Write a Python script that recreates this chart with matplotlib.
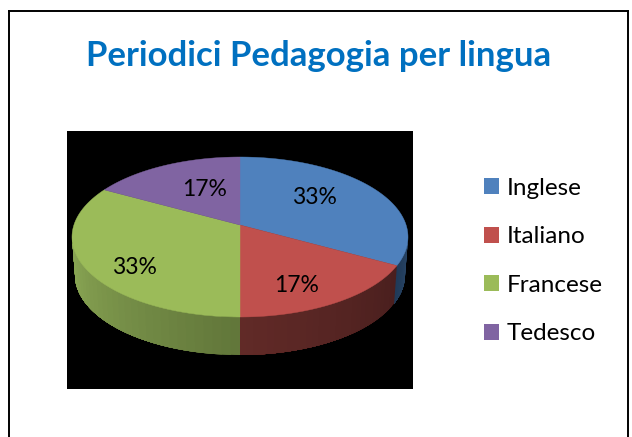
import numpy as np
from matplotlib import pyplot as plt
from matplotlib.colors import to_rgb
from matplotlib.lines import Line2D
from matplotlib.patches import Patch

# chart data
languages = ['Inglese', 'Italiano', 'Francese', 'Tedesco']
percent = [33, 17, 33, 17]
title = 'Periodici Pedagogia per lingua'

# colours
top_colors = ['#4F81BD', '#C0504D', '#9BBB59', '#8064A2']
wall_start = ['#2A4768', '#4A1F1E', '#62773A', '#5A4672']   # wall colour at the start of each slice
wall_end = ['#203A58', '#612A27', '#8CA956', '#5A4672']     # and at its end

W, H = 632, 437     # figure size in pixels
a = 0.15            # perspective shift of the pie centre
depth = 38 / 80     # wall height, in units of the top ellipse


def project(theta, r=1.0):
    # perspective view of a point of the flat pie
    x = r * np.cos(theta)
    y = r * np.sin(theta)
    d = 1 + a * y
    return x * np.sqrt(1 - a**2) / d, (y + a) / d


def project_bottom(theta):
    # lower rim of the wall, slightly narrower than the top
    x, y = project(theta)
    return x * 165 / 168, y - depth


def mix(c0, c1, f):
    return tuple((1 - f) * np.array(to_rgb(c0)) + f * np.array(to_rgb(c1)))


plt.rcParams['font.family'] = ['Lato', 'DejaVu Sans']

fig = plt.figure(figsize=(W / 100, H / 100), dpi=100, facecolor='w')

# black plot area, one data unit = one radius of the top ellipse
ax = fig.add_axes([67 / W, 1 - 389 / H, 346 / W, 258 / H], facecolor='k')
ax.set_xlim((67 - 240) / 168, (413 - 240) / 168)
ax.set_ylim((237 - 389) / 80, (237 - 131) / 80)
ax.set_xticks([])
ax.set_yticks([])
for s in ax.spines.values():
    s.set_visible(False)

# slice limits, clockwise from 12 o'clock
fractions = np.array(percent) / sum(percent)
ends = np.pi / 2 - 2 * np.pi * np.cumsum(fractions)
starts = np.r_[np.pi / 2, ends[:-1]]

# wall, only the front part of the rim shows
front_a = -np.arcsin(a)
front_b = -np.pi + np.arcsin(a)
for i in range(len(percent)):
    t0 = min(starts[i], front_a)
    t1 = max(ends[i], front_b)
    if t0 <= t1:
        continue
    # each strip runs on to the end of the slice, the next one paints over it: no seams
    edges = np.linspace(t0, t1, 31)
    for j in range(30):
        th = np.linspace(edges[j], t1, 60)
        xt, yt = project(th)
        xb, yb = project_bottom(th)
        c = mix(wall_start[i], wall_end[i], j / 29)
        ax.fill(np.r_[xt, xb[::-1]], np.r_[yt, yb[::-1]], color=c, lw=0)

# top of the pie
for i in range(len(percent)):
    th = np.linspace(starts[i], ends[i], 120)
    x, y = project(th)
    x0, y0 = project(0.0, 0.0)
    ax.fill(np.r_[x0, x], np.r_[y0, y], color=top_colors[i], lw=0.3)

# percent labels
label_px = [(314, 197), (297, 285), (134, 267), (205, 189)]
for p, (px, py) in zip(percent, label_px):
    fig.text(px / W, 1 - py / H, f'{p}%', fontsize=16.5, color='k', ha='center', va='center')

fig.text(319 / W, 1 - 56 / H, title, fontsize=25, fontweight='bold', color='#0070C0',
         ha='center', va='center')

# legend
handles = [Patch(facecolor=c, edgecolor='none') for c in top_colors]
fig.legend(handles, languages, loc='center left', bbox_to_anchor=(462 / W, 1 - 261 / H),
           frameon=False, fontsize=17.5, handlelength=0.62, handleheight=0.62,
           handletextpad=0.33, labelspacing=1.135, borderpad=0.4)

# outer frame, open at the bottom
for xs, ys in [([9, 9], [437, 11]), ([9, 628], [11, 11]), ([628, 628], [11, 437])]:
    fig.add_artist(Line2D(np.array(xs) / W, 1 - np.array(ys) / H, color='k', lw=1.4,
                          solid_capstyle='projecting'))

plt.savefig('out.png', dpi=100, facecolor='w')
